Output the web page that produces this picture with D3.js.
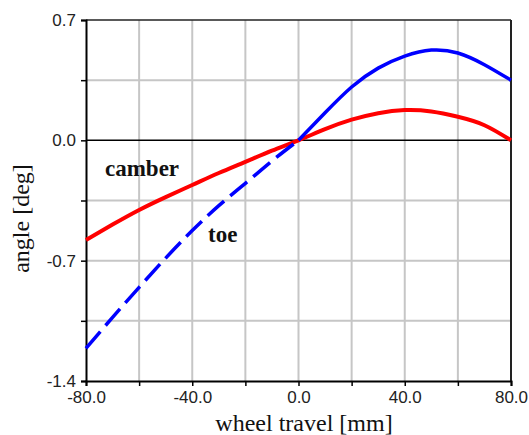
<!DOCTYPE html>
<html>
<head>
<meta charset="utf-8">
<script src="https://cdn.jsdelivr.net/npm/d3@7"></script>
<style>
  html, body { margin: 0; padding: 0; background: #fff; }
  svg { display: block; }
  .tick-label { font-family: "Liberation Sans", Arial, sans-serif; font-size: 17px; fill: #222; }
  .axis-title { font-family: "Liberation Serif", "Times New Roman", serif; font-size: 24px; fill: #111; }
  .curve-label { font-family: "Liberation Serif", "Times New Roman", serif; font-size: 23px; font-weight: bold; fill: #111; }
</style>
</head>
<body>
<svg id="chart" width="529" height="435"></svg>
<script>
// ── Data ───────────────────────────────────────────────────────────────────

const travel = [-80, -70, -60, -50, -40, -30, -20, -10, 0, 10, 20, 30, 40, 50, 60, 70, 80];
const camber = [-0.58, -0.49, -0.405, -0.33, -0.26, -0.19, -0.125, -0.06, 0, 0.065, 0.12, 0.158, 0.176, 0.168, 0.137, 0.088, 0.0];
const toe    = [-1.21, -1.03, -0.855, -0.685, -0.525, -0.38, -0.25, -0.12, 0, 0.16, 0.31, 0.42, 0.49, 0.525, 0.508, 0.44, 0.35];

const xTicks = [-80, -40, 0, 40, 80];
const xGrid  = [-60, -40, -20, 0, 20, 40, 60];
const yTicks = [0.7, 0.0, -0.7, -1.4];
const yGrid  = [0.35, -0.35, -0.7, -1.05];

// ── Layout ─────────────────────────────────────────────────────────────────

const W = 529, H = 435;
const margin = { top: 20, right: 18, bottom: 54, left: 86 };

const svg = d3.select('#chart');

const x = d3.scaleLinear().domain([-80, 80]).range([margin.left, W - margin.right]);
const y = d3.scaleLinear().domain([-1.4, 0.7]).range([H - margin.bottom, margin.top]);

// plain hyphen minus, like the original plot
const fmt = d => d3.format('.1f')(d).replace('\u2212', '-');

// ── Grid ───────────────────────────────────────────────────────────────────

const grid = svg.append('g').attr('stroke', '#c6c6c6').attr('stroke-width', 2);

grid.selectAll('line.vx').data(xGrid).join('line')
  .attr('x1', d => x(d)).attr('x2', d => x(d))
  .attr('y1', y(0.7)).attr('y2', y(-1.4));

grid.selectAll('line.hy').data(yGrid).join('line')
  .attr('x1', x(-80)).attr('x2', x(80))
  .attr('y1', d => y(d)).attr('y2', d => y(d));

// zero line
svg.append('line')
  .attr('x1', x(-80)).attr('x2', x(80))
  .attr('y1', y(0)).attr('y2', y(0))
  .attr('stroke', '#000').attr('stroke-width', 1.5);

// ── Frame ──────────────────────────────────────────────────────────────────

svg.append('line')
  .attr('x1', x(-80)).attr('x2', x(80)).attr('y1', y(0.7)).attr('y2', y(0.7))
  .attr('stroke', '#222').attr('stroke-width', 1.5);
svg.append('line')
  .attr('x1', x(80)).attr('x2', x(80)).attr('y1', y(0.7)).attr('y2', y(-1.4))
  .attr('stroke', '#222').attr('stroke-width', 2);

// ── Axes ───────────────────────────────────────────────────────────────────

const xAxis = d3.axisBottom(x)
  .tickValues(d3.range(-80, 81, 20))
  .tickSize(5)
  .tickFormat(d => xTicks.includes(d) ? fmt(d) : '');

const yAxis = d3.axisLeft(y)
  .tickValues([0.7, 0.35, 0, -0.35, -0.7, -1.05, -1.4])
  .tickSize(5)
  .tickFormat(d => yTicks.some(t => Math.abs(t - d) < 1e-9) ? fmt(d) : '');

const gx = svg.append('g')
  .attr('transform', `translate(0,${y(-1.4)})`)
  .call(xAxis);
gx.select('.domain').attr('stroke', '#000').attr('stroke-width', 2);
gx.selectAll('.tick line').attr('stroke', '#000').attr('stroke-width', 1.5);
gx.selectAll('.tick text')
  .attr('class', 'tick-label')
  .attr('y', 10);

const gy = svg.append('g')
  .attr('transform', `translate(${x(-80)},0)`)
  .call(yAxis);
gy.select('.domain').attr('stroke', '#000').attr('stroke-width', 2);
gy.selectAll('.tick line').attr('stroke', '#000').attr('stroke-width', 1.5);
gy.selectAll('.tick text')
  .attr('class', 'tick-label')
  .attr('x', -10);

// ── Curves ─────────────────────────────────────────────────────────────────

const pts = (ys) => travel.map((t, i) => [t, ys[i]]);

const line = d3.line()
  .x(d => x(d[0]))
  .y(d => y(d[1]))
  .curve(d3.curveNatural);

svg.append('path')
  .attr('d', line(pts(camber)))
  .attr('fill', 'none')
  .attr('stroke', '#ff0000')
  .attr('stroke-width', 4);

// toe: dashed on rebound side, solid on bump side
svg.append('path')
  .attr('d', line(pts(toe).filter(d => d[0] <= 0)))
  .attr('fill', 'none')
  .attr('stroke', '#0000ff')
  .attr('stroke-width', 3.5)
  .attr('stroke-dasharray', '22,8');

svg.append('path')
  .attr('d', line(pts(toe).filter(d => d[0] >= 0)))
  .attr('fill', 'none')
  .attr('stroke', '#0000ff')
  .attr('stroke-width', 3.5);

// ── Labels ─────────────────────────────────────────────────────────────────

svg.append('text').attr('class', 'curve-label')
  .attr('x', 105).attr('y', 176).text('camber');
svg.append('text').attr('class', 'curve-label')
  .attr('x', 208).attr('y', 242).text('toe');

svg.append('text').attr('class', 'axis-title')
  .attr('x', 304).attr('y', 431)
  .attr('text-anchor', 'middle')
  .text('wheel travel [mm]');

svg.append('text').attr('class', 'axis-title')
  .attr('transform', `translate(29,${(y(0.7) + y(-1.4)) / 2 + 18}) rotate(-90)`)
  .attr('text-anchor', 'middle')
  .text('angle [deg]');
</script>
</body>
</html>
